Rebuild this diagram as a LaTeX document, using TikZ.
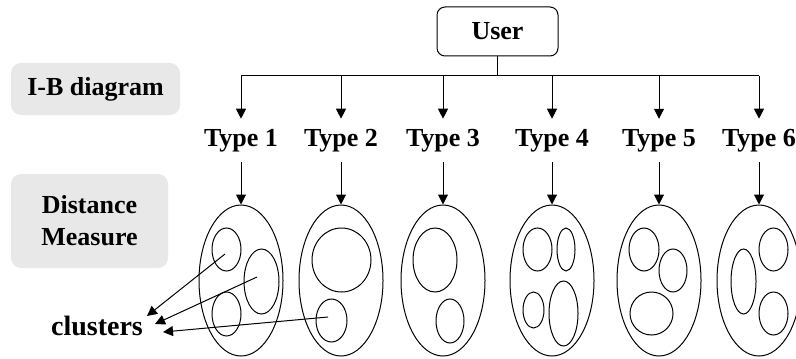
\documentclass[tikz,border=0pt]{standalone}
\usepackage{fontspec}
\setmainfont{Liberation Serif}
\usetikzlibrary{shapes.geometric,arrows.meta}
\tikzset{
  lbl/.style={font=\fontsize{13}{16}\selectfont\bfseries},
  grey box/.style={lbl,fill=gray!18,rounded corners=5pt,align=center},
  type/.style={lbl,inner sep=5pt},
  outer/.style={ellipse,draw,line width=0.5pt,minimum width=42pt,minimum height=75.5pt,inner sep=0},
  clus/.style 2 args={ellipse,draw,line width=0.5pt,minimum width=#1pt,minimum height=#2pt,inner sep=0},
  arr/.style={line width=0.5pt,-{Triangle[length=5pt,width=5pt]}}
}
\begin{document}
\begin{tikzpicture}[x=0.5pt,y=-0.5pt]
\useasboundingbox (0,0) rectangle (796,358);
\clip (0,0) rectangle (796,358);
% left side labels
\node[grey box,minimum width=84.5pt,minimum height=26pt](ib) at (95.5,89){I-B diagram};
\node[grey box,minimum width=78.5pt,minimum height=47pt](dm) at (89.5,221){Distance\\Measure};
\node[lbl,font=\fontsize{14}{16}\selectfont\bfseries](clusters) at (97,326){clusters};
% user and the bus
\node[lbl,draw,line width=0.5pt,rounded corners=4pt,minimum width=60.5pt,minimum height=24.5pt](user) at (497.5,31.5){User};
\coordinate(bus) at (497.5,76);
\coordinate(busl) at (241,76);
\coordinate(busr) at (759,76);
\draw[line width=0.5pt](user.south)--(bus);
\draw[line width=0.5pt](busl)--(busr);
% types with their ellipses
\foreach \x/\n in {241/1,341/2,443/3,552/4,659/5,759/6}{
  \node[type](t\n) at (\x,140.5){Type \n};
  \node[outer](e\n) at (\x,280.5){};
  \draw[arr](t\n.north|-bus)--(t\n.north);
  \draw[arr](t\n.south)--(e\n.north);
}
% clusters inside
\node[clus={14.5}{21.5}](c1a) at (226.5,249.5){};
\node[clus={17.5}{32.5}](c1b) at (261.5,281.5){};
\node[clus={14.5}{22}](c1c) at (226.5,314){};
\node[clus={29.5}{32}](c2a) at (341.5,260){};
\node[clus={15.5}{21.5}](c2b) at (331.5,320.5){};
\node[clus={22}{32}](c3a) at (435,260){};
\node[clus={14}{22}](c3b) at (450,321){};
\node[clus={14.5}{21.5}](c4a) at (537.5,249.5){};
\node[clus={9}{21.5}](c4b) at (566,249.5){};
\node[clus={10.5}{18}](c4c) at (533.5,310){};
\node[clus={14.5}{32.5}](c4d) at (563.5,313.5){};
\node[clus={15}{21.5}](c5a) at (644,249.5){};
\node[clus={14}{21.5}](c5b) at (673,270.5){};
\node[clus={21.5}{21.5}](c5c) at (651.5,313.5){};
\node[clus={12.5}{32.5}](c6a) at (743.5,281.5){};
\node[clus={14.5}{21.5}](c6b) at (773.5,249.5){};
\node[clus={14.5}{21.5}](c6c) at (773.5,313.5){};
% pointers to the label
\draw[arr]([shift={(-1.5,4.5)}]c1a.center)--([shift={(50,-10)}]clusters.center);
\draw[arr]([shift={(-4.5,-4.5)}]c1b.center)--([shift={(58,-2)}]clusters.center);
\draw[arr]([shift={(-3.5,-3.5)}]c2b.center)--([shift={(66,6)}]clusters.center);
\end{tikzpicture}
\end{document}
